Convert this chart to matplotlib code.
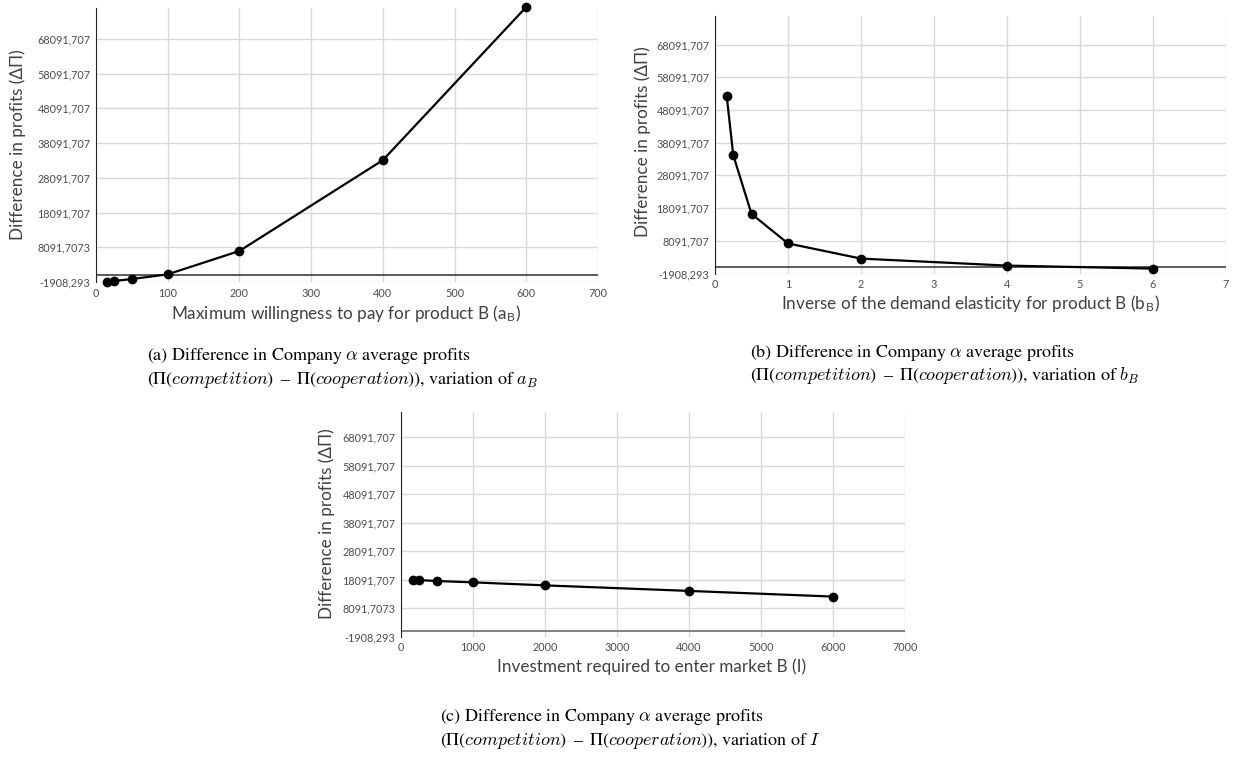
import matplotlib
matplotlib.use("Agg")
import matplotlib.pyplot as plt
import numpy as np

plt.rcParams['font.family'] = ['Lato', 'DejaVu Sans']
plt.rcParams['mathtext.fontset'] = 'cm'

# datos
a_vals = [15, 25, 50, 100, 200, 400, 600]
a_diff = [-1908.293, -1630, -1050, 300, 7030, 33180, 77300]

b_vals = [0.16, 0.25, 0.5, 1, 2, 4, 6]
b_diff = [52460, 34290, 16320, 7290, 2650, 510, -410]

i_vals = [160, 250, 500, 1000, 2000, 4000, 6000]
i_diff = [17980, 17950, 17620, 17150, 16090, 14150, 12160]

y_ticks = [-1908.293, 8091.7073, 18091.707, 28091.707, 38091.707,
           48091.707, 58091.707, 68091.707]
y_labels_ac = ['-1908,293', '8091,7073', '18091,707', '28091,707',
               '38091,707', '48091,707', '58091,707', '68091,707']
y_labels_b = ['-1908,293', '8091,707', '18091,707', '28091,707',
              '38091,707', '48091,707', '58091,707', '68091,707']

W, H = 1234, 759
fig = plt.figure(figsize=(W / 100, H / 100), dpi=100)


def px(x, y):
    return x / W, 1 - y / H


def panel(rect, x, y, xticks, ylabels):
    ax = fig.add_axes(rect)
    ax.set_xlim(xticks[0], xticks[-1])
    ax.set_ylim(-1908.293, 77000)
    ax.set_xticks(xticks)
    ax.set_yticks(y_ticks)
    ax.set_yticklabels(ylabels)
    ax.grid(True, color='#d9d9d9', lw=1)
    ax.set_axisbelow(True)
    for s in ['top', 'right', 'bottom']:
        ax.spines[s].set_visible(False)
    ax.spines['left'].set_color('#262626')
    ax.axhline(0, color='#404040', lw=1.2, zorder=2)
    ax.tick_params(length=0, labelsize=7.8, labelcolor='#4d4d4d', pad=4)
    ax.plot(x, y, color='black', lw=1.6, marker='o', ms=6, clip_on=False, zorder=3)
    return ax


ax1 = panel([96 / W, 1 - 282 / H, 502 / W, 274 / H], a_vals, a_diff,
            [0, 100, 200, 300, 400, 500, 600, 700], y_labels_ac)
ax2 = panel([715 / W, 1 - 273.5 / H, 511 / W, 258 / H], b_vals, b_diff,
            [0, 1, 2, 3, 4, 5, 6, 7], y_labels_b)
ax3 = panel([401 / W, 1 - 636.7 / H, 504 / W, 225 / H], i_vals, i_diff,
            [0, 1000, 2000, 3000, 4000, 5000, 6000, 7000], y_labels_ac)
ax3.axhline(0, color='#8c8c8c', lw=1.2, zorder=2)

ylab = "Difference in profits (ΔΠ)"
lab_kw = dict(fontsize=12.3, color='#404040', va='center', ha='center')
fig.text(*px(18, 145), ylab, rotation=90, **lab_kw)
fig.text(*px(643, 142), ylab, rotation=90, **lab_kw)
fig.text(*px(327, 524), ylab, rotation=90, **lab_kw)
fig.text(*px(346, 313), r"Maximum willingness to pay for product B (a$_\mathregular{B}$)", **lab_kw)
fig.text(*px(970, 304), r"Inverse of the demand elasticity for product B (b$_\mathregular{B}$)", **lab_kw)
fig.text(*px(652, 667), "Investment required to enter market B (I)", **lab_kw)

cap_kw = dict(fontsize=13, family='STIXGeneral', color='black', va='center', ha='left')
line2 = r"(Π($\mathit{competition}$)$\,$ – $\,$Π($\mathit{cooperation}$)), variation of "
fig.text(*px(147, 356), r"(a) Difference in Company $\alpha$ average profits", **cap_kw)
fig.text(*px(147, 380), line2 + r"$a_B$", **cap_kw)
fig.text(*px(750, 352), r"(b) Difference in Company $\alpha$ average profits", **cap_kw)
fig.text(*px(750, 376), line2 + r"$b_B$", **cap_kw)
fig.text(*px(440, 717), r"(c) Difference in Company $\alpha$ average profits", **cap_kw)
fig.text(*px(440, 741), line2 + r"$I$", **cap_kw)

plt.savefig("out.png", dpi=100)
